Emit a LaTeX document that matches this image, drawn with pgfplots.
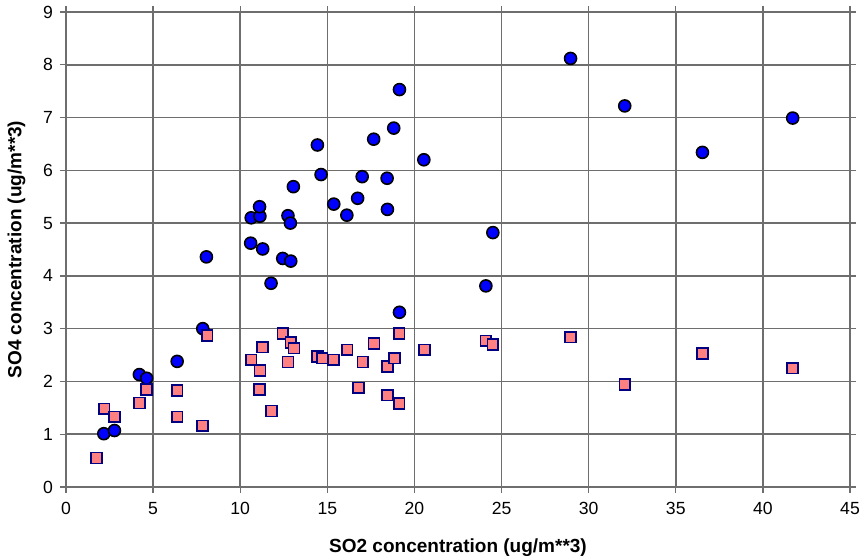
\documentclass[border=0pt]{standalone}
\usepackage{pgfplots}
\pgfplotsset{compat=1.18}
\usepackage{fontspec}
\setmainfont{Liberation Sans}
\definecolor{gridc}{HTML}{6E6E6E}
\definecolor{salmon}{HTML}{FF8080}
\definecolor{navyb}{HTML}{000080}
\begin{document}
\begin{tikzpicture}
\begin{axis}[
  scale only axis,
  width=392pt, height=237.5pt,
  xmin=0, xmax=45, ymin=0, ymax=9,
  xtick={0,5,...,45}, ytick={0,1,...,9},
  grid=major,
  major grid style={draw=gridc, line width=0.75pt},
  axis line style={draw=gridc, line width=0.8pt},
  tick style={draw=gridc, line width=0.7pt},
  tick align=outside,
  major tick length=3pt,
  ticklabel style={font=\fontsize{8.8}{10}\selectfont},
  xticklabel style={yshift=-1pt},
  /pgf/number format/assume math mode=true,
  xlabel={\textbf{SO2 concentration (ug/m**3)}},
  ylabel={\textbf{SO4 concentration (ug/m**3)}},
  label style={font=\fontsize{9.5}{11}\selectfont},
  xlabel style={yshift=-5pt},
  ylabel style={yshift=2pt},
  clip=false,
]
\addplot[only marks, mark=*, mark size=3pt, mark options={fill=blue, draw=black, line width=0.8pt}] coordinates {
(2.17,1.01) (2.78,1.07) (4.21,2.13) (4.63,2.06) (6.38,2.38) (7.85,3.0)
(8.06,4.36) (10.6,4.62) (10.63,5.10) (11.13,5.13) (11.11,5.31) (11.29,4.51)
(11.77,3.86) (12.44,4.33) (12.9,4.28) (12.74,5.14) (12.88,5.0) (13.05,5.69)
(14.43,6.48) (14.64,5.92) (15.37,5.36) (16.12,5.15) (16.74,5.47) (17.0,5.88)
(17.66,6.59) (18.43,5.85) (18.45,5.26) (18.81,6.80) (19.14,7.53) (19.14,3.31)
(20.54,6.20) (24.1,3.81) (24.5,4.82) (28.96,8.12) (32.07,7.22) (36.53,6.34)
(41.71,6.99)
};
\addplot[only marks, mark=square*, mark size=2.7pt, mark options={fill=salmon, draw=navyb, line width=0.8pt}] coordinates {
(1.75,0.55) (2.19,1.48) (2.78,1.33) (4.21,1.59) (4.61,1.85) (6.38,1.83)
(6.38,1.33) (7.83,1.16) (8.1,2.87) (10.63,2.41) (11.13,2.21) (11.11,1.85)
(11.29,2.65) (11.79,1.44) (12.44,2.91) (12.9,2.74) (13.09,2.63) (12.74,2.37)
(14.43,2.47) (14.7,2.44) (15.36,2.41) (16.14,2.60) (16.78,1.88) (17.03,2.37)
(17.68,2.72) (18.45,2.28) (18.45,1.74) (18.85,2.44) (19.12,2.91) (19.12,1.58)
(20.58,2.60) (24.1,2.77) (24.5,2.70) (28.96,2.84) (32.07,1.94) (36.53,2.53)
(41.71,2.25)
};
\coordinate (sw) at (rel axis cs:0,0);
\coordinate (ne) at (rel axis cs:1,1);
\end{axis}
\pgfresetboundingbox
\path ([shift={(-33pt,-36pt)}]sw) rectangle ([shift={(5pt,6pt)}]ne);
\end{tikzpicture}
\end{document}
